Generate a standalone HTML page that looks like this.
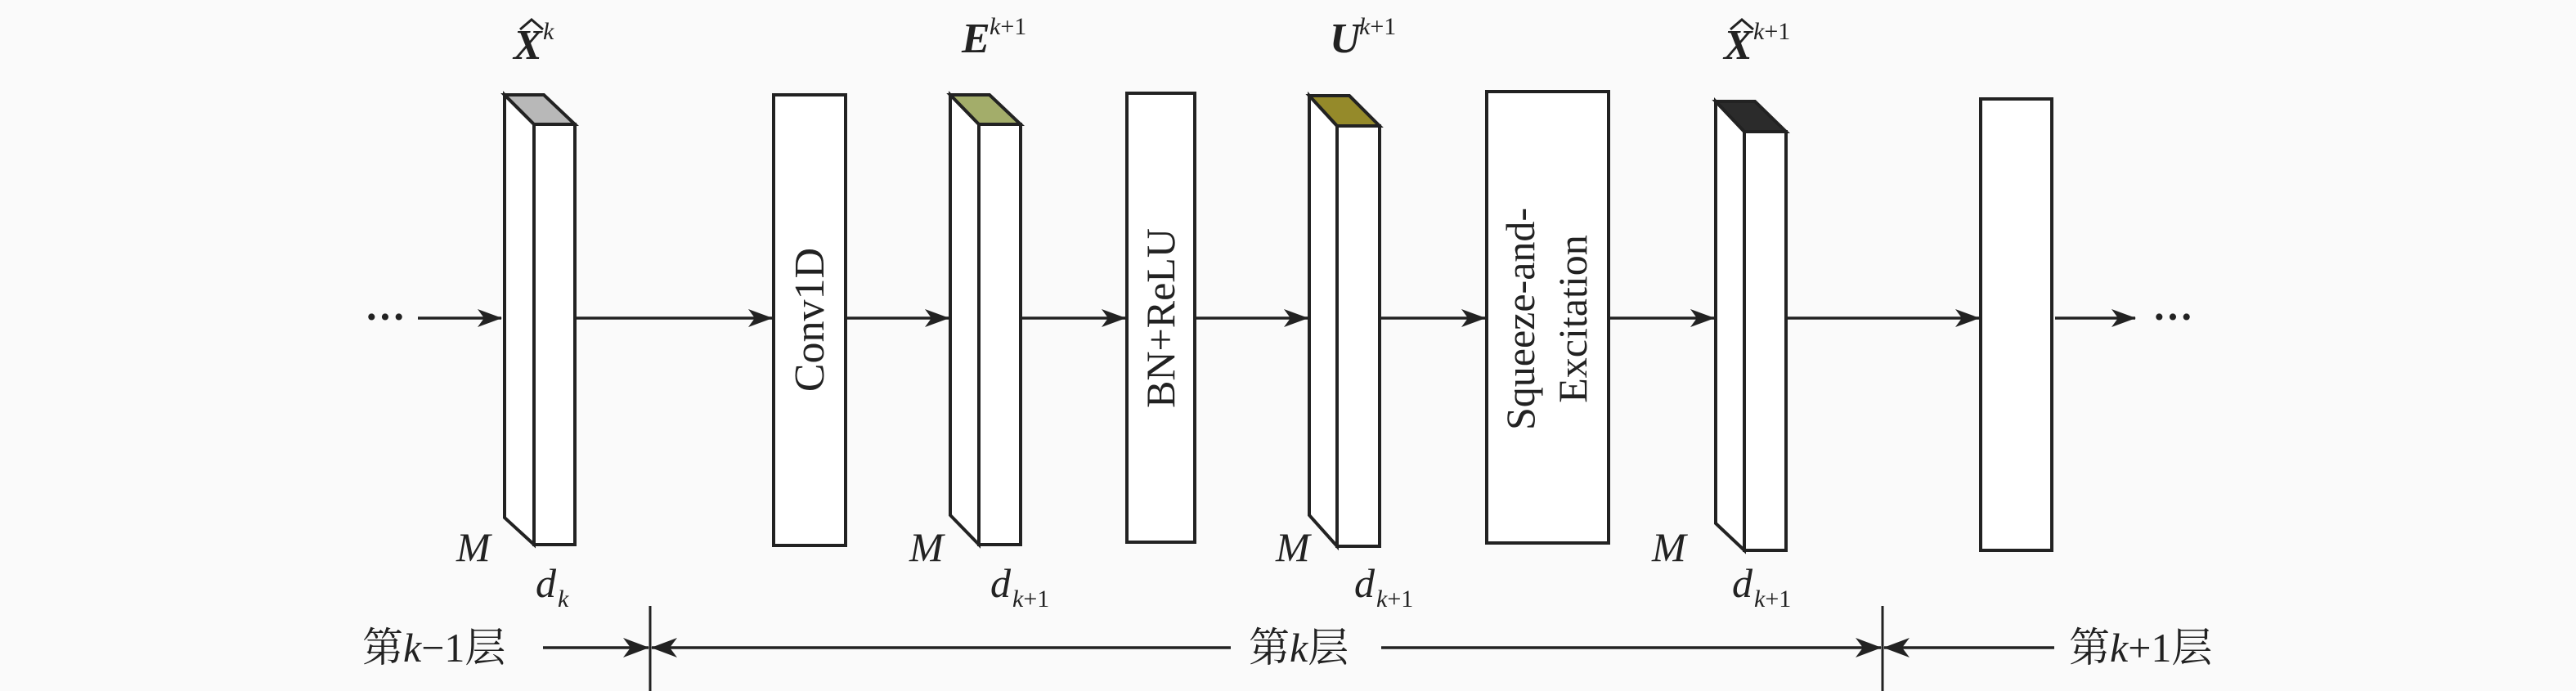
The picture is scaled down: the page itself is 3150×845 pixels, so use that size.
<!DOCTYPE html>
<html><head><meta charset="utf-8"><style>
html,body{margin:0;padding:0;background:#fafafa;}
svg{display:block;}
text{font-family:"Liberation Serif","Times New Roman","Noto Serif CJK SC",serif;fill:#222;}
</style></head><body>
<svg width="3150" height="845" viewBox="0 0 3150 845" xmlns="http://www.w3.org/2000/svg">
<defs>
<marker id="ah" viewBox="0 0 30 24" refX="29" refY="12" markerWidth="30" markerHeight="24" markerUnits="userSpaceOnUse" orient="auto">
<path d="M0,1 L30,12 L0,23 L8,12 Z" fill="#222"/>
</marker>
<marker id="ah2" viewBox="0 0 32 26" refX="31" refY="13" markerWidth="32" markerHeight="26" markerUnits="userSpaceOnUse" orient="auto">
<path d="M0,1 L32,13 L0,25 L9,13 Z" fill="#222"/>
</marker>
</defs>
<g stroke="#222" stroke-width="4" fill="#fff" stroke-linejoin="miter">
<polygon points="617,116 653,152 653,666 617,633"/>
<rect x="653" y="152" width="50" height="514"/>
<polygon points="617,116 665,116 703,152 653,152" fill="#b8b8b8"/>
<rect x="946" y="116" width="88" height="551"/>
<polygon points="1162,116 1197,152 1197,666 1162,630"/>
<rect x="1197" y="152" width="51" height="514"/>
<polygon points="1162,116 1210,116 1248,152 1197,152" fill="#a3ad6a"/>
<rect x="1378" y="114" width="83" height="549"/>
<polygon points="1601,117 1635,154 1635,668 1601,630"/>
<rect x="1635" y="154" width="52" height="514"/>
<polygon points="1601,117 1650,117 1687,154 1635,154" fill="#958a2a"/>
<rect x="1818" y="112" width="149" height="552"/>
<polygon points="2098,124 2133,161 2133,673 2098,640"/>
<rect x="2133" y="161" width="51" height="512"/>
<polygon points="2098,124 2146,124 2184,161 2133,161" fill="#2b2b2b"/>
<rect x="2422" y="121" width="87" height="552"/>
</g>
<g stroke="#222" stroke-width="3.5" fill="none">
<line x1="511" y1="389" x2="613" y2="389" marker-end="url(#ah)"/>
<line x1="703" y1="389" x2="944" y2="389" marker-end="url(#ah)"/>
<line x1="1034" y1="389" x2="1160" y2="389" marker-end="url(#ah)"/>
<line x1="1248" y1="389" x2="1376" y2="389" marker-end="url(#ah)"/>
<line x1="1461" y1="389" x2="1599" y2="389" marker-end="url(#ah)"/>
<line x1="1687" y1="389" x2="1816" y2="389" marker-end="url(#ah)"/>
<line x1="1967" y1="389" x2="2096" y2="389" marker-end="url(#ah)"/>
<line x1="2184" y1="389" x2="2420" y2="389" marker-end="url(#ah)"/>
<line x1="2513" y1="389" x2="2611" y2="389" marker-end="url(#ah)"/>
<line x1="795" y1="741" x2="795" y2="845" stroke-width="3"/>
<line x1="2302" y1="741" x2="2302" y2="845" stroke-width="3"/>
<line x1="664" y1="792" x2="793" y2="792" marker-end="url(#ah2)"/>
<line x1="1505" y1="792" x2="797" y2="792" marker-end="url(#ah2)"/>
<line x1="1689" y1="792" x2="2300" y2="792" marker-end="url(#ah2)"/>
<line x1="2512" y1="792" x2="2304" y2="792" marker-end="url(#ah2)"/>
</g>
<text x="446" y="404" font-size="50" font-weight="bold">···</text>
<text x="2632" y="404" font-size="50" font-weight="bold">···</text>
<text transform="translate(1007,391) rotate(-90)" font-size="52" text-anchor="middle">Conv1D</text>
<text transform="translate(1436,389) rotate(-90)" font-size="50" text-anchor="middle">BN+ReLU</text>
<text transform="translate(1876,390) rotate(-90)" font-size="50" text-anchor="middle">Squeeze-and-</text>
<text transform="translate(1940,390) rotate(-90)" font-size="50" text-anchor="middle">Excitation</text>
<text x="628" y="72" font-size="52" font-style="italic" font-weight="bold">X</text>
<path d="M636,36 L650,24 L664,36" stroke="#222" stroke-width="3" fill="none"/>
<text x="664" y="48" font-size="30" font-style="italic">k</text>
<text x="1176" y="64" font-size="52" font-style="italic" font-weight="bold">E</text>
<text x="1210" y="42" font-size="30"><tspan font-style="italic">k</tspan>+1</text>
<text x="1626" y="64" font-size="52" font-style="italic" font-weight="bold">U</text>
<text x="1662" y="42" font-size="30"><tspan font-style="italic">k</tspan>+1</text>
<text x="2108" y="72" font-size="52" font-style="italic" font-weight="bold">X</text>
<path d="M2116,36 L2130,24 L2144,36" stroke="#222" stroke-width="3" fill="none"/>
<text x="2144" y="48" font-size="30"><tspan font-style="italic">k</tspan>+1</text>
<text x="558" y="686" font-size="50" font-style="italic">M</text>
<text x="1112" y="686" font-size="50" font-style="italic">M</text>
<text x="1560" y="686" font-size="50" font-style="italic">M</text>
<text x="2020" y="686" font-size="50" font-style="italic">M</text>
<text x="655" y="730" font-size="50" font-style="italic">d</text>
<text x="682" y="742" font-size="30" font-style="italic">k</text>
<text x="1211" y="730" font-size="50" font-style="italic">d</text>
<text x="1238" y="742" font-size="30"><tspan font-style="italic">k</tspan>+1</text>
<text x="1656" y="730" font-size="50" font-style="italic">d</text>
<text x="1683" y="742" font-size="30"><tspan font-style="italic">k</tspan>+1</text>
<text x="2118" y="730" font-size="50" font-style="italic">d</text>
<text x="2145" y="742" font-size="30"><tspan font-style="italic">k</tspan>+1</text>
<text x="443" y="809" font-size="50">第<tspan font-style="italic">k</tspan>−1层</text>
<text x="1527" y="809" font-size="50">第<tspan font-style="italic">k</tspan>层</text>
<text x="2530" y="809" font-size="50">第<tspan font-style="italic">k</tspan>+1层</text>
</svg>
</body></html>
